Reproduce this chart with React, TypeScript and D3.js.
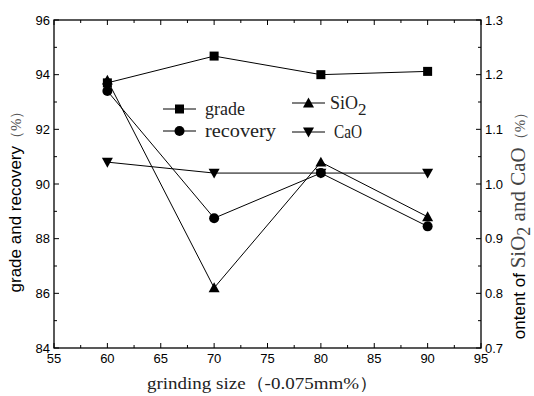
import React from 'react';
import * as d3 from 'd3';

// grinding size (-0.075mm %)
const sizes = [60, 70, 80, 90];
// left axis series (%)
const grade = [93.7, 94.68, 94.0, 94.12];
const recovery = [93.4, 88.75, 90.4, 88.45];
// right axis series (%)
const sio2 = [1.19, 0.81, 1.04, 0.94];
const cao = [1.04, 1.02, 1.02, 1.02];

const xTicks = [55, 60, 65, 70, 75, 80, 85, 90, 95];
const leftTicks = [84, 86, 88, 90, 92, 94, 96];
const rightTicks = [0.7, 0.8, 0.9, 1.0, 1.1, 1.2, 1.3];

const W = 534;
const H = 396;
const m = { left: 54, right: 481, top: 20, bottom: 348 };

const sans = 'Liberation Sans, Arial, sans-serif';
const serif = 'Liberation Serif, serif';

const x = d3.scaleLinear().domain([55, 95]).range([m.left, m.right]);
const yL = d3.scaleLinear().domain([84, 96]).range([m.bottom, m.top]);
const yR = d3.scaleLinear().domain([0.7, 1.3]).range([m.bottom, m.top]);

const Marker = ({ type, cx, cy }: { type: string; cx: number; cy: number }) => {
  if (type === 'square') return <rect x={cx - 4.5} y={cy - 4.5} width={9} height={9} fill="#000" />;
  if (type === 'circle') return <circle cx={cx} cy={cy} r={5} fill="#000" />;
  const s = 5.5;
  if (type === 'up')
    return <path d={`M${cx},${cy - s}L${cx + s},${cy + s * 0.8}L${cx - s},${cy + s * 0.8}Z`} fill="#000" />;
  return <path d={`M${cx},${cy + s}L${cx + s},${cy - s * 0.8}L${cx - s},${cy - s * 0.8}Z`} fill="#000" />;
};

const series = [
  { vals: grade, y: yL, type: 'square' },
  { vals: recovery, y: yL, type: 'circle' },
  { vals: sio2, y: yR, type: 'up' },
  { vals: cao, y: yR, type: 'down' },
];

export default function App() {
  const xMinor = d3.range(55, 95.01, 2.5);
  const lMinor = d3.range(84, 96.01, 1);
  const rMinor = d3.range(0.7, 1.3001, 0.05);

  const legend = [
    { label: 'grade', type: 'square', lx: 163, ly: 109, tl: 40 },
    { label: 'recovery', type: 'circle', lx: 163, ly: 131, tl: 71 },
    { label: 'SiO', type: 'up', lx: 292, ly: 103, tl: 0 },
    { label: 'CaO', type: 'down', lx: 292, ly: 132, tl: 28 },
  ];

  return (
    <svg width={W} height={H} style={{ position: 'absolute', left: 0, top: 0, background: '#fff' }}>
      {/* frame */}
      <rect x={m.left} y={m.top} width={m.right - m.left} height={m.bottom - m.top} fill="none" stroke="#000" strokeWidth={1.3} />

      {/* x ticks bottom and top */}
      {xMinor.map((v) => {
        const major = Math.abs(v % 5) < 1e-6;
        const len = major ? 5 : 3;
        return (
          <g key={'x' + v}>
            <line x1={x(v)} x2={x(v)} y1={m.bottom} y2={m.bottom - len} stroke="#000" />
            <line x1={x(v)} x2={x(v)} y1={m.top} y2={m.top + len} stroke="#000" />
          </g>
        );
      })}
      {xTicks.map((v) => (
        <text key={'xl' + v} x={x(v)} y={m.bottom + 15} textAnchor="middle" fontFamily={sans} fontSize={13}>
          {v}
        </text>
      ))}

      {/* left ticks */}
      {lMinor.map((v) => (
        <line key={'l' + v} x1={m.left} x2={m.left + (v % 2 === 0 ? 5 : 3)} y1={yL(v)} y2={yL(v)} stroke="#000" />
      ))}
      {leftTicks.map((v) => (
        <text key={'ll' + v} x={m.left - 4} y={yL(v) + 4.5} textAnchor="end" fontFamily={sans} fontSize={13}>
          {v}
        </text>
      ))}

      {/* right ticks */}
      {rMinor.map((v, i) => (
        <line key={'r' + i} x1={m.right} x2={m.right - (i % 2 === 0 ? 5 : 3)} y1={yR(v)} y2={yR(v)} stroke="#000" />
      ))}
      {rightTicks.map((v) => (
        <text key={'rl' + v} x={m.right + 4} y={yR(v) + 4.5} textAnchor="start" fontFamily={sans} fontSize={13}>
          {v.toFixed(1)}
        </text>
      ))}

      {/* series */}
      {series.map((s, si) => {
        const line = d3
          .line<number>()
          .x((_, i) => x(sizes[i]))
          .y((d) => s.y(d));
        return (
          <g key={'s' + si}>
            <path d={line(s.vals) || ''} fill="none" stroke="#000" strokeWidth={1} />
            {s.vals.map((d, i) => (
              <Marker key={i} type={s.type} cx={x(sizes[i])} cy={s.y(d)} />
            ))}
          </g>
        );
      })}

      {/* legend */}
      {legend.map((l) => (
        <g key={l.label}>
          <line x1={l.lx} x2={l.lx + 33} y1={l.ly} y2={l.ly} stroke="#000" />
          <Marker type={l.type} cx={l.lx + 16.5} cy={l.ly} />
          {l.tl > 0 ? (
            <text x={l.lx + 42} y={l.ly + 6} fontFamily={serif} fontSize={18} fill="#222" textLength={l.tl} lengthAdjust="spacingAndGlyphs">
              {l.label}
            </text>
          ) : (
            <text x={l.lx + 38} y={l.ly + 6} fontFamily={serif} fontSize={18} fill="#222">
              {l.label}
              <tspan dy={6} fontSize={17}>
                2
              </tspan>
            </text>
          )}
        </g>
      ))}

      {/* axis titles */}
      <text x={147} y={389} fontFamily={serif} fontSize={17} fill="#222" textLength={231} lengthAdjust="spacingAndGlyphs">
        grinding size（-0.075mm%）
      </text>
      <text transform="translate(21,198) rotate(-90)" textAnchor="middle" fontSize={17}>
        <tspan fontFamily={sans}>grade and recovery</tspan>
        <tspan fontFamily={serif} fill="#555" fontSize={15}>（%）</tspan>
      </text>
      <text transform="translate(525,222) rotate(-90)" textAnchor="middle" fontSize={17}>
        <tspan fontFamily={sans}>ontent of </tspan>
        <tspan fontFamily={serif} fill="#444" fontSize={21}>SiO</tspan>
        <tspan fontFamily={serif} fill="#444" fontSize={18} dy={5}>2</tspan>
        <tspan fontFamily={serif} fill="#444" fontSize={21} dy={-5}> and CaO</tspan>
        <tspan fontFamily={serif} fill="#555" fontSize={15}>（%）</tspan>
      </text>
    </svg>
  );
}
